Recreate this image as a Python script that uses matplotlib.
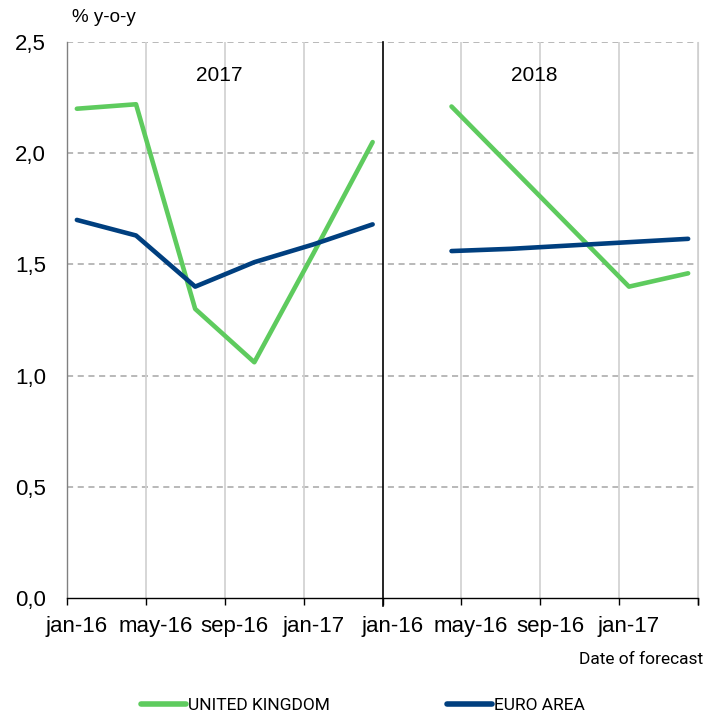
import numpy as np
import matplotlib
matplotlib.use("Agg")
import matplotlib.pyplot as plt
from matplotlib.lines import Line2D

# ---- data ----
tick_labels = ["jan-16", "may-16", "sep-16", "jan-17", "jan-16", "may-16", "sep-16", "jan-17"]
panel_titles = ["2017", "2018"]
months_per_panel = 16
# forecast positions (month index within each panel: jan-16 = 0)
uk_2017_pos = [0, 3, 6, 9, 12, 15]
uk_2017 = [2.20, 2.22, 1.30, 1.06, 1.55, 2.05]
ea_2017_pos = [0, 3, 6, 9, 12, 15]
ea_2017 = [1.70, 1.63, 1.40, 1.51, 1.59, 1.68]
uk_2018_pos = [3, 6, 9, 12, 15]
uk_2018 = [2.21, 1.94, 1.67, 1.40, 1.46]
ea_2018_pos = [3, 6, 9, 12, 15]
ea_2018 = [1.56, 1.57, 1.585, 1.60, 1.615]

GREEN = "#5ECB5E"
BLUE = "#003F7F"
narrow = ["Roboto", "Liberation Sans", "DejaVu Sans"]
reg = ["Liberation Sans", "DejaVu Sans"]

fig = plt.figure(figsize=(7.08, 7.15), dpi=100)
ax = fig.add_axes([67/708, 1-598/715, (698-67)/708, (598-42)/715])

n = 2 * months_per_panel
ax.set_xlim(-0.5, n - 0.5)
ax.set_ylim(0, 2.5)

# grid
for y in np.arange(0.5, 2.51, 0.5):
    ax.axhline(y, color="#A6A6A6", lw=1.1, ls=(0, (4, 3)), zorder=1)
bounds = np.arange(-0.5, n, 4)
for b in bounds[1:]:
    if b == months_per_panel - 0.5:
        continue
    ax.axvline(b, color="#D0D0D0", lw=1.2, zorder=1)
ax.plot([months_per_panel - 0.5] * 2, [-0.035, 2.5], color="black", lw=1.2,
        zorder=2, clip_on=False)

# lines
ax.plot(uk_2017_pos, uk_2017, color=GREEN, lw=3.3, solid_capstyle="round", zorder=3)
ax.plot(ea_2017_pos, ea_2017, color=BLUE, lw=3.3, solid_capstyle="round", zorder=4)
ax.plot(np.array(uk_2018_pos) + months_per_panel, uk_2018, color=GREEN, lw=3.3,
        solid_capstyle="round", zorder=3)
ax.plot(np.array(ea_2018_pos) + months_per_panel, ea_2018, color=BLUE, lw=3.3,
        solid_capstyle="round", zorder=4)

# axes styling
ax.spines["top"].set_visible(False)
ax.spines["left"].set_color("#808080")
ax.spines["right"].set_color("#D0D0D0")
ax.spines["bottom"].set_color("black")
ax.spines["left"].set_linewidth(1.0)
ax.spines["bottom"].set_linewidth(1.0)

ax.set_yticks(np.arange(0, 2.51, 0.5))
ax.set_yticklabels([f"{v:.1f}".replace(".", ",") for v in np.arange(0, 2.51, 0.5)],
                   fontsize=16, family=reg)
ax.tick_params(axis="y", length=0, pad=15)

ax.set_xticks(bounds.tolist() + [n - 0.5], minor=True)
ax.set_xticks(np.arange(0, n, 4))
ax.set_xticklabels(tick_labels, fontsize=16, family=reg)
ax.tick_params(axis="x", which="major", length=0, pad=13)
ax.tick_params(axis="x", which="minor", length=5, width=1.0, color="black")

# texts
fig.text(72/708, 1-18/715, "% y-o-y", fontsize=13.5, family=reg, va="center", ha="left")
ax.text((months_per_panel - 1) / 2 - 0.3, 2.35, panel_titles[0], fontsize=15,
        family=reg, ha="center", va="center")
ax.text(months_per_panel + (months_per_panel - 1) / 2 - 0.3, 2.35, panel_titles[1],
        fontsize=15, family=reg, ha="center", va="center")
fig.text(703/708, 1-660/715, "Date of forecast", fontsize=12.5, family=narrow,
         ha="right", va="center")

handles = [Line2D([], [], color=GREEN, lw=4, solid_capstyle="round"),
           Line2D([], [], color=BLUE, lw=4, solid_capstyle="round")]
fig.legend(handles, ["UNITED KINGDOM", "EURO AREA"], loc="center",
           bbox_to_anchor=(363/708, 1-705/715), ncol=2, frameon=False,
           prop={"family": narrow, "size": 12.5}, handlelength=2.6,
           handletextpad=0.15, columnspacing=6.7)

fig.savefig("out.png", dpi=100)
